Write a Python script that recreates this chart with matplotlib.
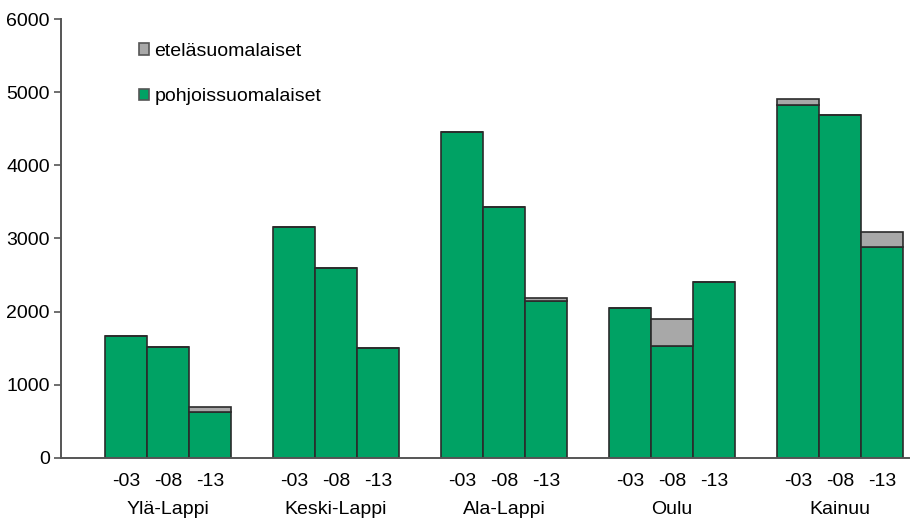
import matplotlib
matplotlib.use("Agg")
import matplotlib.pyplot as plt
import numpy as np

plt.rcParams["font.family"] = ["Liberation Sans", "DejaVu Sans"]

regions = ["Ylä-Lappi", "Keski-Lappi", "Ala-Lappi", "Oulu", "Kainuu"]
years = ["-03", "-08", "-13"]

# pohjoissuomalaiset (green, bottom), one row per region
north = [
    [1670, 1520, 625],
    [3160, 2600, 1500],
    [4450, 3430, 2145],
    [2050, 1530, 2400],
    [4830, 4690, 2880],
]
# eteläsuomalaiset (grey, stacked on top)
south = [
    [0, 0, 75],
    [0, 0, 0],
    [0, 0, 35],
    [0, 365, 0],
    [75, 0, 205],
]

green = "#00a264"
grey = "#a8a8a8"
edge = "#2b2b2b"
fs = 14

fig = plt.figure(figsize=(9.1, 5.21), dpi=100)
ax = fig.add_axes([0.067, 0.121, 0.932, 0.8425])

xs, tick_labels, n_vals, s_vals = [], [], [], []
for g in range(len(regions)):
    for i, yr in enumerate(years):
        xs.append(4 * g + i + 1.55)
        tick_labels.append(yr)
        n_vals.append(north[g][i])
        s_vals.append(south[g][i])
xs = np.array(xs)
n_vals = np.array(n_vals)
s_vals = np.array(s_vals)

ax.bar(xs, n_vals, width=1.0, color=green, edgecolor=edge, linewidth=1.2,
       label="pohjoissuomalaiset", zorder=2)
ax.bar(xs, s_vals, width=1.0, bottom=n_vals, color=grey, edgecolor=edge,
       linewidth=1.2, label="eteläsuomalaiset", zorder=2)

ax.set_xlim(0, 20.2)
ax.set_ylim(0, 6000)
ax.set_yticks(range(0, 6001, 1000))
ax.tick_params(axis="y", length=5, width=1.2, color="#555555", labelsize=fs, pad=3)
ax.set_xticks(xs)
ax.set_xticklabels(tick_labels)
ax.tick_params(axis="x", length=0, labelsize=fs, pad=11)

for side in ("top", "right"):
    ax.spines[side].set_visible(False)
for side in ("left", "bottom"):
    ax.spines[side].set_color("#555555")
    ax.spines[side].set_linewidth(1.4)

sec = ax.secondary_xaxis("bottom")
sec.set_xticks([4 * g + 2.55 for g in range(len(regions))])
sec.set_xticklabels(regions)
sec.tick_params(length=0, labelsize=fs, pad=31)
sec.spines["bottom"].set_visible(False)

handles, labels = ax.get_legend_handles_labels()
leg = ax.legend(handles[::-1], labels[::-1], loc="upper left", bbox_to_anchor=(0.071, 0.985),
                frameon=False, fontsize=fs, handlelength=0.55, handleheight=0.55,
                handletextpad=0.25, labelspacing=1.45)
for h in leg.legend_handles:
    h.set_edgecolor("#555555")

fig.savefig("out.png", dpi=100)
plt.close(fig)
